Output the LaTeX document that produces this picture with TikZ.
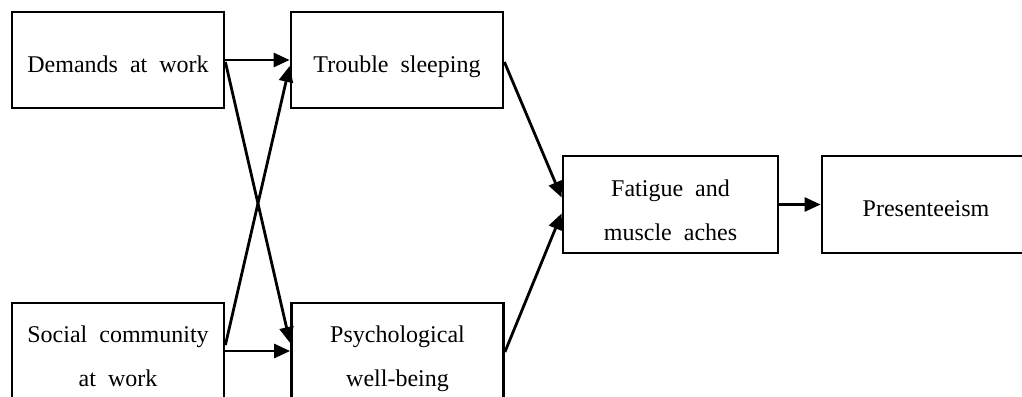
\documentclass[tikz,border=0pt]{standalone}
\usepackage{fontspec}
\setmainfont{Liberation Serif}
\usetikzlibrary{arrows.meta,calc}
\newcommand\boxfontsetup{\fontsize{24}{44}\selectfont\spaceskip 12pt\relax}
\begin{document}
\begin{tikzpicture}[x=1pt,y=-1pt,
  box/.style={draw,line width=2.8pt,rectangle,inner sep=0pt,align=center,
    font=\boxfontsetup},
  oneline/.style={text height=24pt,text depth=0pt},
  twoline/.style={text height=71pt,text depth=0pt},
  link/.style={line width=2.8pt,-{Triangle[length=16pt,width=14pt]}}]
\clip (0,0) rectangle (1022,396);
\fill[white] (0,0) rectangle (1022,396);
\node[box,oneline,minimum width=212pt,minimum height=96pt] (dem) at (118,60) {Demands at work};
\node[box,oneline,minimum width=212pt,minimum height=96pt] (trou) at (397,60) {Trouble sleeping};
\node[box,twoline,minimum width=212pt,minimum height=96pt] (soc) at (118,351) {Social community\\at work};
\node[box,twoline,minimum width=212pt,minimum height=96pt] (psy) at (397.5,351) {Psychological\\well-being};
\node[box,twoline,minimum width=215pt,minimum height=97pt] (fat) at (670.5,204.5) {Fatigue and\\muscle aches};
\node[box,oneline,minimum width=208pt,minimum height=97pt] (pres) at (926,204.5) {Presenteeism};
\draw[link] (dem.east) -- (trou.west);
\draw[link] ($(dem.east)+(0,2)$) -- ($(psy.west)+(0,-8)$);
\draw[link] ($(soc.east)+(0,-6)$) -- ($(trou.west)+(0,6)$);
\draw[link] (soc.east) -- (psy.west);
\draw[link] ($(trou.east)+(0,2)$) -- ($(fat.west)+(0,-7)$);
\draw[link] ($(psy.east)+(0,1)$) -- ($(fat.west)+(0,9)$);
\draw[link] (fat.east) -- (pres.west);
\end{tikzpicture}
\end{document}
